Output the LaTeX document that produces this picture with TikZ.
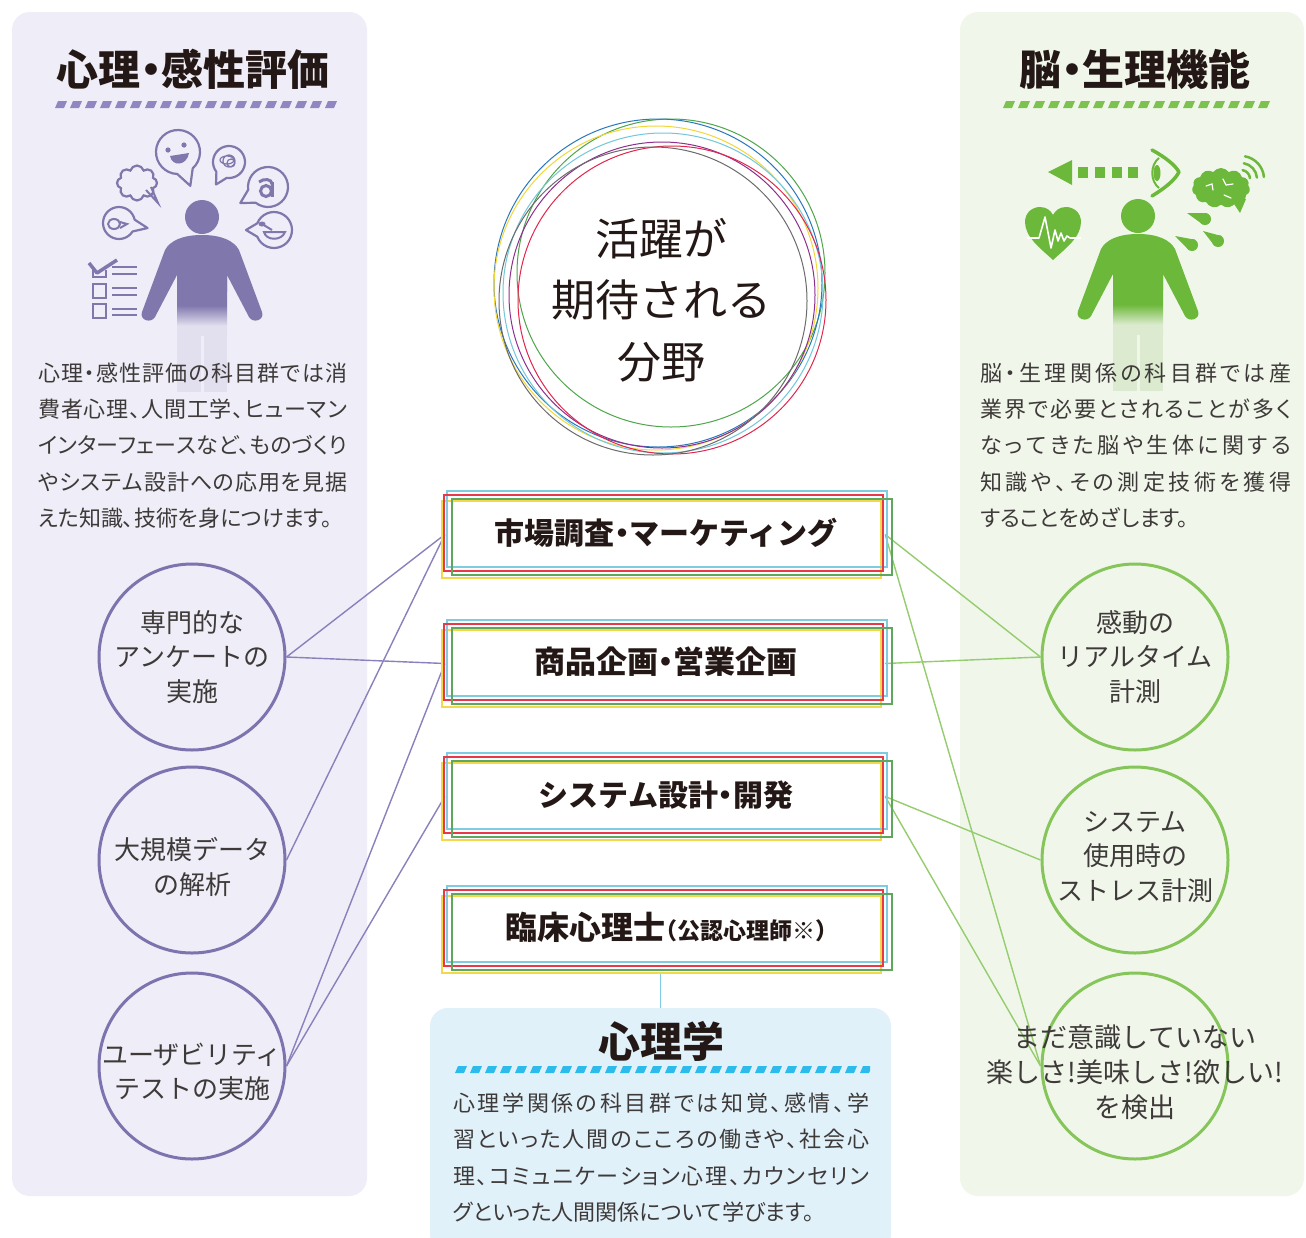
\documentclass[tikz,border=0pt]{standalone}
\usepackage{fontspec}
\setmainfont{Noto Sans CJK JP}
\newfontfamily\bodyfont{Noto Sans CJK JP}[RawFeature=+palt]
\newfontfamily\headfont{Noto Sans CJK JP}[RawFeature=+halt]
\usetikzlibrary{shapes.symbols,calc}

% palette
\definecolor{lavbg}{HTML}{EFEDF7}
\definecolor{leafbg}{HTML}{F0F7EA}
\definecolor{skybg}{HTML}{E1F1FA}
\definecolor{purp}{HTML}{8077AD}
\definecolor{purpring}{HTML}{7D73AE}
\definecolor{purpline}{HTML}{8A81BC}
\definecolor{purpstripe}{HTML}{9087C2}
\definecolor{purpfaint}{HTML}{E2DFEE}
\definecolor{grn}{HTML}{6CB83A}
\definecolor{grnring}{HTML}{86C55A}
\definecolor{grnline}{HTML}{95CC6E}
\definecolor{grnstripe}{HTML}{7DC24F}
\definecolor{grnfaint}{HTML}{DCEBCF}
\definecolor{skystripe}{HTML}{2DBBEB}
\definecolor{ink}{HTML}{231815}
\definecolor{bodyink}{HTML}{3E3A39}
\definecolor{bxcyan}{HTML}{7FCCE0}
\definecolor{bxred}{HTML}{E8394B}
\definecolor{bxgreen}{HTML}{5DA85D}
\definecolor{bxyellow}{HTML}{F2D84A}
\definecolor{rgreen}{HTML}{4EA64A}
\definecolor{rblue}{HTML}{2A78BC}
\definecolor{ryellow}{HTML}{F3D73A}
\definecolor{rcyan}{HTML}{71C7DB}
\definecolor{rpurple}{HTML}{8E2F8E}
\definecolor{rred}{HTML}{E2264D}
\definecolor{rgray}{HTML}{6B6B6B}

% torso shadings: solid on top, fading into the legs
\pgfdeclareverticalshading{purpbody}{100bp}{color(0bp)=(purpfaint); color(31bp)=(purpfaint); color(44bp)=(purp); color(100bp)=(purp)}
\pgfdeclareverticalshading{grnbody}{100bp}{color(0bp)=(grnfaint); color(31bp)=(grnfaint); color(44bp)=(grn); color(100bp)=(grn)}

% a line of text spread evenly over a given width
\newcommand\just[2]{\makebox[#1][s]{\justfirst#2\relax}}
\def\justfirst#1{#1\justrest}
\def\justrest#1{\ifx#1\relax\else\hss#1\expandafter\justrest\fi}

% slanted dash bar under a heading
\newcommand\stripebar[4]{%
  \begin{scope}
    \clip (#1,#3) rectangle (#2,#3+7);
    \foreach \k in {0,...,30}{
      \fill[#4] ({#1+\k*15},#3+7) -- ++(3,-7) -- ++(9,0) -- ++(-3,7) -- cycle;}
  \end{scope}}

% standing figure: x, y of head, solid colour, faint colour, panel colour, shading
\newcommand\drawperson[6]{%
  \begin{scope}[shift={(#1,#2)}]
    \fill[#4] (-25,105) rectangle (25,175);
    \fill[#5] (-1.5,118) rectangle (1.5,176);
    \shade[shading=#6] (-25,40) rectangle (25,118);
    \fill[#3] (0,18) .. controls (20,18) and (32,24) .. (37,33) -- (60,95)
      .. controls (63,103) and (51,107) .. (47,100) -- (25,58) -- (25,75)
      -- (-25,75) -- (-25,58) -- (-47,100) .. controls (-51,107) and (-63,103) .. (-60,95)
      -- (-37,33) .. controls (-32,24) and (-20,18) .. (0,18) -- cycle;
    \fill[#3] (0,0) circle (17);
  \end{scope}}

% speech bubble: centre x, centre y, radius, tail angle, tail length
\newcommand\bubble[5]{%
  \filldraw[fill=lavbg, draw=purp, line width=2.2pt, line join=round]
    ($(#1,#2)+({#4+22}:#3)$) arc[start angle={#4+22}, end angle={#4+338}, radius=#3]
    -- ($(#1,#2)+(#4:#5)$) -- cycle;}

% teardrop: round centre x, y, radius, tip x, tip y
\newcommand\drop[5]{%
  \fill[grn] (#1,#2) circle (#3);
  \fill[grn] (#4,#5) -- ($(#1,#2)!#3pt!90:(#4,#5)$) -- ($(#1,#2)!#3pt!-90:(#4,#5)$) -- cycle;}

\begin{document}
\begin{tikzpicture}[x=1pt,y=-1pt,
  title/.style={inner sep=0pt, text height=37pt, text depth=5pt,
    font=\headfont\bfseries\fontsize{42}{42}\selectfont, text=ink},
  body/.style={inner sep=0pt, text height=19.4pt, text depth=2.6pt, anchor=west,
    font=\bodyfont\fontsize{22}{22}\selectfont, text=bodyink},
  topic/.style={circle, draw=#1, line width=3pt, minimum size=186pt, inner sep=0pt},
  topictext/.style={inner sep=0pt, align=center, font=\fontsize{26}{34.5}\selectfont, text=bodyink},
  field/.style={minimum width=440pt, minimum height=87pt, inner sep=0pt},
  fieldtext/.style={inner sep=0pt, text height=26.4pt, text depth=3.6pt,
    font=\headfont\bfseries\fontsize{30}{30}\selectfont, text=ink},
  ring/.style={draw=#1, line width=1pt},
  frame/.style={draw=#1, line width=1.5pt},
  lefttie/.style={draw=purpline, line width=1.4pt},
  righttie/.style={draw=grnline, line width=1.4pt},
  panel/.style={rounded corners=18pt}]

\useasboundingbox (0,0) rectangle (1306,1237);
\fill[white] (0,0) rectangle (1306,1237);

% ---------- panels ----------
\fill[lavbg, panel] (12,12) rectangle (367,1196);
\fill[leafbg, panel] (960,12) rectangle (1304,1196);
\node[fill=skybg, rounded corners=18pt, minimum width=461pt, minimum height=244pt, inner sep=0pt]
  (psy) at (660.5,1130) {};

% ---------- headings ----------
\node[title] (lefttitle) at (193,69) {心理・感性評価};
\stripebar{55}{340}{101}{purpstripe}
\node[title] (righttitle) at (1135,69) {脳・生理機能};
\stripebar{1003}{1272}{101}{grnstripe}
\node[title] (psytitle) at (661,1041) {心理学};
\stripebar{455}{870}{1066}{skystripe}

% ---------- left icon ----------
\drawperson{202}{217}{purp}{purpfaint}{lavbg}{purpbody}
\bubble{178}{152}{22}{70}{36}
\fill[purp] (168,150) circle (2.6) (184,145) circle (2.6);
\fill[purp] (170,156) .. controls (172,167) and (187,166) .. (189,153) -- cycle;
\node[cloud, cloud puffs=8, draw=purp, fill=lavbg, line width=2.2pt, minimum width=40pt,
  minimum height=35pt, inner sep=0pt] (thought) at (137,183) {};
\draw[purp, line width=2pt] (146,190) -- (158,203) -- (151,187);
\bubble{119}{223}{16}{10}{29}
\draw[purp, line width=2pt] (114,224) ellipse (6 and 5);
\draw[purp, line width=2pt] (120,222) -- (127,224) -- (120,228);
\bubble{229}{162}{16}{120}{26}
\draw[purp, line width=1.2pt] (229,161) circle (6) (231,163) circle (4) (227,160) ellipse (7 and 4);
\bubble{268}{187}{20}{150}{32}
\draw[purp, line width=3pt] (266,191) circle (5.5);
\draw[purp, line width=3pt] (272,182) -- (272,197);
\draw[purp, line width=3pt] (259,182) .. controls (264,178) and (272,179) .. (272,184);
\bubble{274}{230}{18}{180}{28}
\draw[purp, line width=2pt] (264,232) .. controls (266,241) and (282,241) .. (285,232) -- cycle;
\draw[purp, line width=2pt] (262,224) -- (272,230);
\fill[purp] (262,224) ellipse (3.5 and 2.5);
% checklist
\draw[purp, line width=2.5pt] (93,284) rectangle (106,298) (93,304) rectangle (106,318);
\draw[purp, line width=2.5pt] (93,268) -- (93,277) -- (106,277) -- (106,270);
\draw[purp, line width=3.5pt, line join=round] (89,263) -- (97,273) -- (117,260);
\foreach \yy in {267,274,288,295,309,315}{\draw[purp, line width=2.5pt] (112,\yy) -- (137,\yy);}

% ---------- right icon ----------
\drawperson{1138}{216}{grn}{grnfaint}{leafbg}{grnbody}
\fill[grn] (1053,260) .. controls (1040,248) and (1025,237) .. (1025,222)
  .. controls (1025,212) and (1033,207) .. (1040,207) .. controls (1047,207) and (1051,211) .. (1053,215)
  .. controls (1055,211) and (1059,207) .. (1066,207) .. controls (1073,207) and (1081,212) .. (1081,222)
  .. controls (1081,237) and (1066,248) .. (1053,260) -- cycle;
\draw[white, line width=1.6pt, line join=round] (1027,238) -- (1039,238) -- (1045,217) -- (1051,248)
  -- (1055,230) -- (1058,241) -- (1061,233) -- (1064,241) -- (1067,236) -- (1070,238) -- (1081,238);
\fill[grn] (1048,172) -- (1072,160) -- (1072,185) -- cycle;
\foreach \xx in {1078,1095,1112,1128}{\fill[grn] (\xx,167) rectangle (\xx+10,178);}
\draw[grn, line width=3.5pt, line cap=round, line join=round] (1152,150)
  .. controls (1165,157) and (1175,165) .. (1179,172) .. controls (1175,180) and (1165,188) .. (1152,196);
\draw[grn, line width=2pt] (1159,158) .. controls (1150,165) and (1150,181) .. (1159,188);
\fill[grn] (1157,173) ellipse (3.5 and 8);
\node[cloud, cloud puffs=11, cloud puff arc=110, aspect=1.5, fill=grn, minimum width=58pt,
  minimum height=40pt, inner sep=0pt] (brain) at (1221,188) {};
\fill[grn] (1230,198) -- (1246,199) -- (1240,213) -- cycle;
\draw[white, line width=1.2pt, line cap=round] (1206,186) -- (1212,184) -- (1213,190)
  (1223,179) -- (1226,185) -- (1233,184) (1224,195) -- (1231,198);
\foreach \rr in {9,16,23}{
  \draw[grn, line width=2.5pt, line cap=round] ($(1241,179)+(-80:\rr)$) arc[start angle=-80, end angle=-5, radius=\rr];}
\drop{1205}{219}{6}{1187}{213}
\drop{1192}{245}{6}{1175}{236}
\drop{1218}{241}{6}{1203}{231}

% ---------- descriptions ----------
\node[body] (lt1) at (38,373) {\just{309pt}{心理・感性評価の科目群では消}};
\node[body] (lt2) at (38,409) {\just{309pt}{費者心理、人間工学、ヒューマン}};
\node[body] (lt3) at (38,445) {\just{309pt}{インターフェースなど、ものづくり}};
\node[body] (lt4) at (38,482) {\just{309pt}{やシステム設計への応用を見据}};
\node[body] (lt5) at (38,518) {えた知識、技術を身につけます。};

\node[body] (rt1) at (980,373) {\just{311pt}{脳・生理関係の科目群では産}};
\node[body] (rt2) at (980,409) {\just{311pt}{業界で必要とされることが多く}};
\node[body] (rt3) at (980,445) {\just{311pt}{なってきた脳や生体に関する}};
\node[body] (rt4) at (980,482) {\just{311pt}{知識や、その測定技術を獲得}};
\node[body] (rt5) at (980,518) {することをめざします。};

\node[body] (ct1) at (453,1103) {\just{416pt}{心理学関係の科目群では知覚、感情、学}};
\node[body] (ct2) at (453,1139) {\just{416pt}{習といった人間のこころの働きや、社会心}};
\node[body] (ct3) at (453,1176) {\just{416pt}{理、コミュニケーション心理、カウンセリン}};
\node[body] (ct4) at (453,1212) {グといった人間関係について学びます。};

% ---------- centre rings ----------
\draw[ring=rgreen] (671,273) circle (154);
\draw[ring=rblue] (658,283) circle (164);
\draw[ring=ryellow] (656,288) circle (162);
\draw[ring=rcyan] (663,293) circle (160);
\draw[ring=rpurple] (662,295) circle (153);
\draw[ring=rred] (672,300) circle (154);
\draw[ring=rgray] (653,301) circle (154);
\node[inner sep=0pt, align=center, font=\fontsize{44}{61.5}\selectfont, text=ink]
  (fieldhead) at (661,300) {活躍が\\期待される\\分野};

% ---------- topic circles ----------
\node[topic=purpring] (lc1) at (192,657) {};
\node[topictext] (lc1t) at (192,657) {専門的な\\アンケートの\\実施};
\node[topic=purpring] (lc2) at (192,860) {};
\node[topictext] (lc2t) at (192,867) {大規模データ\\の解析};
\node[topic=purpring] (lc3) at (192,1066) {};
\node[topictext] (lc3t) at (192,1072) {ユーザビリティ\\テストの実施};

\node[topic=grnring] (rc1) at (1135,657) {};
\node[topictext] (rc1t) at (1135,657) {感動の\\リアルタイム\\計測};
\node[topic=grnring] (rc2) at (1135,860) {};
\node[topictext] (rc2t) at (1135,857) {システム\\使用時の\\ストレス計測};
\node[topic=grnring] (rc3) at (1135,1066) {};

% ---------- career boxes ----------
\node[field] (box1) at (665,534.5) {};
\node[field] (box2) at (665,663.5) {};
\node[field] (box3) at (665,796.5) {};
\node[field] (box4) at (665,929.5) {};

% connectors
\draw[lefttie] (lc1.east) -- (box1.west);
\draw[lefttie] (lc1.east) -- (box2.west);
\draw[lefttie] (lc2.east) -- (box1.west);
\draw[lefttie] (lc3.east) -- (box2.west);
\draw[lefttie] (lc3.east) -- (box3.west);
\draw[righttie] (box1.east) -- (rc1.west);
\draw[righttie] (box1.east) -- (rc3.west);
\draw[righttie] (box2.east) -- (rc1.west);
\draw[righttie] (box3.east) -- (rc2.west);
\draw[righttie] (box3.east) -- (rc3.west);
\draw[draw=bxcyan, line width=1.5pt] (psy.north |- box4.south) -- (psy.north);

\node[topictext, font=\fontsize{27}{35}\selectfont] (rc3t) at (1135,1072)
  {まだ意識していない\\楽しさ!美味しさ!欲しい!\\を検出};

% coloured frames round each box
\foreach \b in {box1,box2,box3,box4}{
  \path (\b.north) coordinate (T);
  \draw[frame=bxyellow] ($(T)+(-223,10)$) rectangle ($(T)+(216,87)$);
  \draw[frame=bxcyan] ($(T)+(-218,0)$) rectangle ($(T)+(222,76)$);
  \draw[frame=bxred] ($(T)+(-221,4)$) rectangle ($(T)+(218,80)$);
  \draw[frame=bxgreen] ($(T)+(-213,8)$) rectangle ($(T)+(227,84)$);
}
\node[fieldtext] (box1t) at ($(box1)+(1,-1)$) {市場調査・マーケティング};
\node[fieldtext, font=\headfont\bfseries\fontsize{31}{31}\selectfont] (box2t) at ($(box2)+(1,-1)$) {商品企画・営業企画};
\node[fieldtext] (box3t) at ($(box3)+(1,-1)$) {システム設計・開発};
\node[fieldtext, font=\headfont\bfseries\fontsize{32}{32}\selectfont] (box4t) at ($(box4)+(1,-1)$)
  {臨床心理士{\fontsize{23}{23}\selectfont（公認心理師※）}};

\end{tikzpicture}
\end{document}
